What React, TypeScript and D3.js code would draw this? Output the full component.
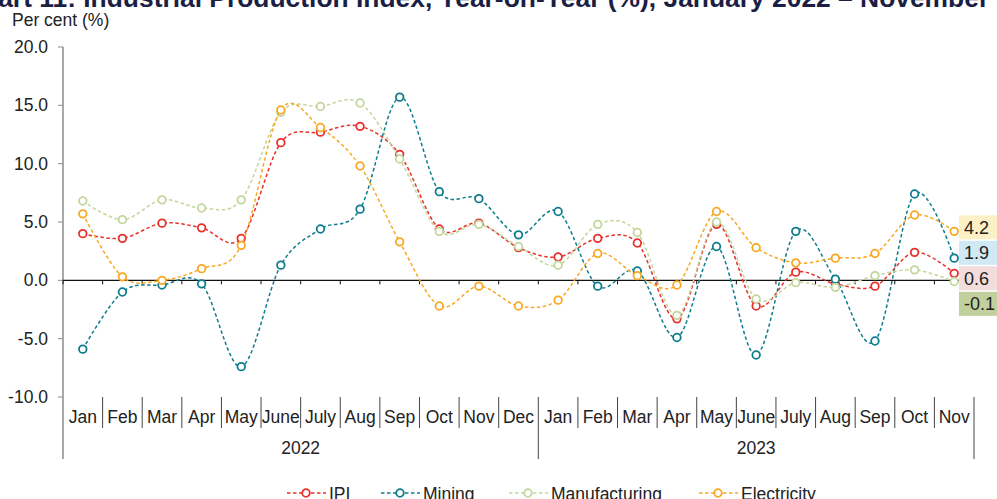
import * as d3 from 'd3';
import React from 'react';

const months = ["Jan", "Feb", "Mar", "Apr", "May", "June", "July", "Aug", "Sep", "Oct", "Nov", "Dec",
  "Jan", "Feb", "Mar", "Apr", "May", "June", "July", "Aug", "Sep", "Oct", "Nov"];
const years = [
  { label: "2022", count: 12 },
  { label: "2023", count: 11 },
];

const ipi = [4.0, 3.6, 4.9, 4.5, 3.6, 11.8, 12.7, 13.2, 10.8, 4.4, 4.9, 2.8,
  2.0, 3.6, 3.2, -3.3, 4.8, -2.2, 0.7, -0.3, -0.5, 2.4, 0.6];
const mining = [-5.9, -1.0, -0.4, -0.3, -7.4, 1.3, 4.4, 6.1, 15.7, 7.6, 7.0, 3.9,
  5.9, -0.5, 0.8, -4.9, 2.9, -6.4, 4.2, 0.1, -5.2, 7.4, 1.9];
const manufacturing = [6.8, 5.2, 6.9, 6.2, 6.9, 14.4, 14.9, 15.2, 10.4, 4.2, 4.8, 2.9,
  1.3, 4.8, 4.1, -3.0, 5.0, -1.6, -0.2, -0.6, 0.4, 0.9, -0.1];
const electricity = [5.7, 0.3, 0.0, 1.0, 3.0, 14.6, 13.1, 9.8, 3.3, -2.2, -0.5, -2.2,
  -1.7, 2.3, 0.4, -0.4, 5.9, 2.8, 1.5, 1.9, 2.3, 5.6, 4.2];

const series = [
  { name: "IPI", values: ipi, color: "#e8302c", label: "#f2dcdc" },
  { name: "Mining", values: mining, color: "#0e7d8e", label: "#d0e9f2" },
  { name: "Manufacturing", values: manufacturing, color: "#c3d69b", label: "#c1d09c" },
  { name: "Electricity", values: electricity, color: "#f8a823", label: "#fdf0c4" },
];

const W = 997;
const H = 499;
const FONT = "'Liberation Sans', Arial, sans-serif";
const FS = 17.5;

// plain hyphen for negatives, like the source chart
const fmt = d3.formatLocale({ decimal: ".", thousands: ",", grouping: [3], currency: ["", ""], minus: "-" })
  .format(".1f");

const App: React.FC = () => {
  const keys = months.map((m, i) => `${i}-${m}`);
  const x = d3.scaleBand<string>().domain(keys).range([63, 974]).padding(0);
  const y = d3.scaleLinear().domain([-10, 20]).range([397, 47]);
  const cx = (i: number) => (x(keys[i]) ?? 0) + x.bandwidth() / 2;

  const line = d3.line<number>()
    .x((_, i) => cx(i))
    .y(v => y(v))
    .curve(d3.curveCatmullRom.alpha(0));

  const yTicks = y.ticks(6);

  // boundaries between months
  const bounds = d3.range(months.length + 1).map(i => 63 + i * x.bandwidth());
  let acc = 0;
  const yearSpans = years.map(yr => {
    const start = acc;
    acc += yr.count;
    return { ...yr, x0: bounds[start], x1: bounds[acc] };
  });

  // end labels, sorted top to bottom and stacked
  const last = months.length - 1;
  const ends = series
    .map(s => ({ s, v: s.values[last] }))
    .sort((a, b) => b.v - a.v);
  const labelTop = y(ends[0].v) - 4;

  const legendX = [287, 381, 509, 699];

  return (
    <svg width={W} height={H} style={{ position: "absolute", left: 0, top: 0, background: "#fff" }}
      fontFamily={FONT}>
      <text x={-37} y={7} fontSize={26.4} fontWeight="bold" fill="#1c1f45">
        Chart 11: Industrial Production Index, Year-on-Year (%), January 2022 – November 2023
      </text>
      <text x={12} y={25.5} fontSize={FS} fill="#222">Per cent (%)</text>

      {/* y axis */}
      <line x1={63} x2={63} y1={y(20)} y2={459} stroke="#8c8c8c" strokeWidth={1.5} />
      {yTicks.map(t => (
        <g key={t}>
          <line x1={58} x2={63} y1={y(t)} y2={y(t)} stroke="#8c8c8c" />
          <text x={48} y={y(t)} dy="0.35em" textAnchor="end" fontSize={FS} fill="#222">{fmt(t)}</text>
        </g>
      ))}

      {/* zero line with ticks */}
      <line x1={63} x2={974} y1={y(0)} y2={y(0)} stroke="#111" strokeWidth={1.2} />
      {bounds.map((b, i) => (
        <line key={i} x1={b} x2={b} y1={y(0)} y2={y(0) + 4} stroke="#111" />
      ))}

      {/* category axis */}
      {bounds.slice(1).map((b, i) => (
        <line key={i} x1={b} x2={b} y1={y(-10)} y2={yearSpans.some(s => s.x1 === b) ? 459 : 428}
          stroke="#444" />
      ))}
      {months.map((m, i) => (
        <text key={i} x={cx(i)} y={417} dy="0.35em" textAnchor="middle" fontSize={FS} fill="#222">{m}</text>
      ))}
      {yearSpans.map(s => (
        <text key={s.label} x={(s.x0 + s.x1) / 2} y={448} dy="0.35em" textAnchor="middle"
          fontSize={FS} fill="#222">{s.label}</text>
      ))}

      {/* series */}
      {series.map(s => (
        <g key={s.name}>
          <path d={line(s.values) ?? ""} fill="none" stroke={s.color} strokeWidth={1.5}
            strokeDasharray="3.5,2.5" />
          {s.values.map((v, i) => (
            <circle key={i} cx={cx(i)} cy={y(v)} r={3.8} fill="#fff" stroke={s.color} strokeWidth={1.8} />
          ))}
        </g>
      ))}

      {/* end labels */}
      {ends.map((e, i) => {
        const c = labelTop + i * 25.5;
        return (
          <g key={e.s.name}>
            <rect x={959} y={c - 12} width={40} height={24} fill={e.s.label} />
            <text x={964} y={c} dy="0.35em" fontSize={18} fill="#222">{fmt(e.v)}</text>
          </g>
        );
      })}

      {/* legend */}
      {series.map((s, i) => (
        <g key={s.name} transform={`translate(${legendX[i]},493)`}>
          <line x1={0} x2={39} y1={0} y2={0} stroke={s.color} strokeWidth={1.5} strokeDasharray="3.5,2.5" />
          <circle cx={19} cy={0} r={3.8} fill="#fff" stroke={s.color} strokeWidth={1.8} />
          <text x={42} y={7} fontSize={FS} fill="#222">{s.name}</text>
        </g>
      ))}
    </svg>
  );
};

export default App;
